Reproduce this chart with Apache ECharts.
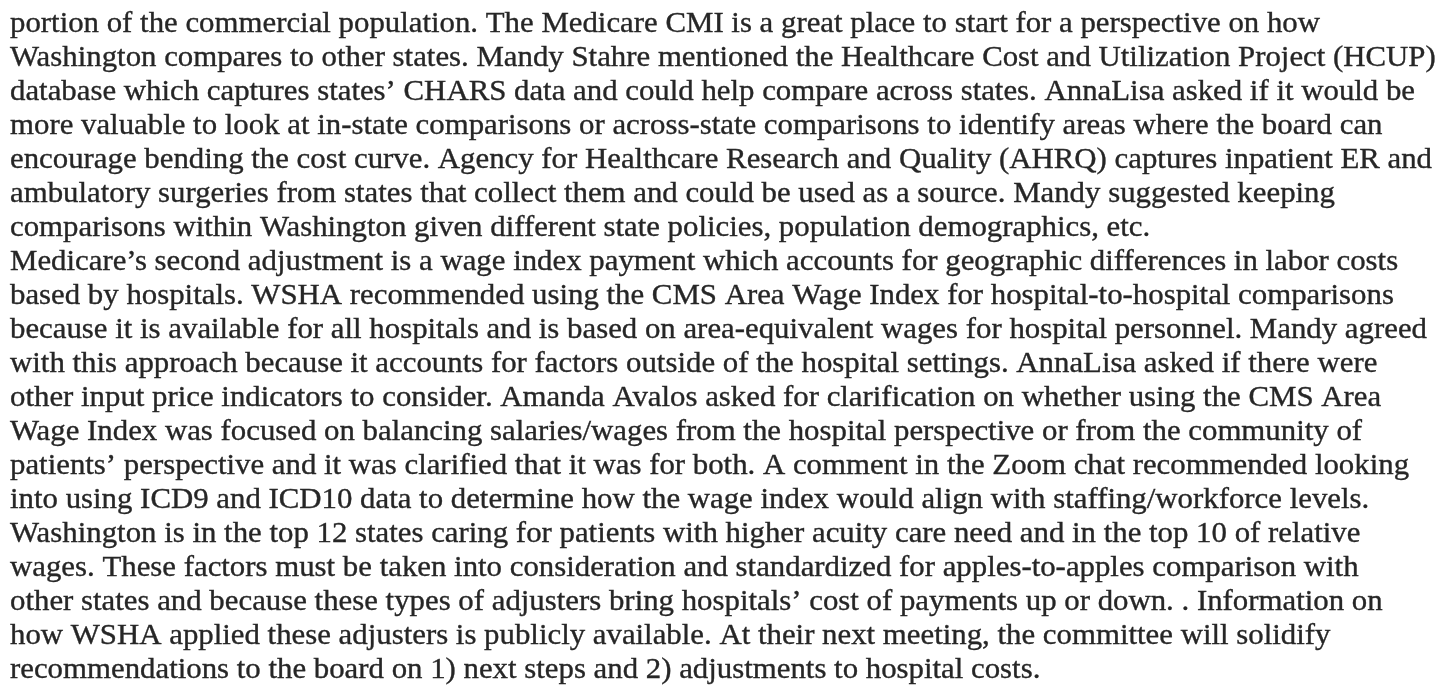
<!DOCTYPE html>
<html>
<head>
<meta charset="utf-8">
<script src="https://cdn.jsdelivr.net/npm/echarts@6/dist/echarts.min.js"></script>
<style>
html,body{margin:0;padding:0;background:#ffffff;}
#c{width:1445px;height:692px;}
</style>
</head>
<body>
<div id="c"></div>
<script>
// Text lines of the page, in reading order
const lines = [
  "portion of the commercial population. The Medicare CMI is a great place to start for a perspective on how",
  "Washington compares to other states. Mandy Stahre mentioned the Healthcare Cost and Utilization Project (HCUP)",
  "database which captures states\u2019 CHARS data and could help compare across states. AnnaLisa asked if it would be",
  "more valuable to look at in-state comparisons or across-state comparisons to identify areas where the board can",
  "encourage bending the cost curve. Agency for Healthcare Research and Quality (AHRQ) captures inpatient ER and",
  "ambulatory surgeries from states that collect them and could be used as a source. Mandy suggested keeping",
  "comparisons within Washington given different state policies, population demographics, etc.",
  "Medicare\u2019s second adjustment is a wage index payment which accounts for geographic differences in labor costs",
  "based by hospitals. WSHA recommended using the CMS Area Wage Index for hospital-to-hospital comparisons",
  "because it is available for all hospitals and is based on area-equivalent wages for hospital personnel. Mandy agreed",
  "with this approach because it accounts for factors outside of the hospital settings. AnnaLisa asked if there were",
  "other input price indicators to consider. Amanda Avalos asked for clarification on whether using the CMS Area",
  "Wage Index was focused on balancing salaries/wages from the hospital perspective or from the community of",
  "patients\u2019 perspective and it was clarified that it was for both. A comment in the Zoom chat recommended looking",
  "into using ICD9 and ICD10 data to determine how the wage index would align with staffing/workforce levels.",
  "Washington is in the top 12 states caring for patients with higher acuity care need and in the top 10 of relative",
  "wages. These factors must be taken into consideration and standardized for apples-to-apples comparison with",
  "other states and because these types of adjusters bring hospitals\u2019 cost of payments up or down. . Information on",
  "how WSHA applied these adjusters is publicly available. At their next meeting, the committee will solidify",
  "recommendations to the board on 1) next steps and 2) adjustments to hospital costs."
];

// Layout constants
const FONT_FAMILY = '"Liberation Serif", "DejaVu Serif", serif';
const FONT_SIZE = 30;
const LEFT = 10;
const FIRST_BASELINE = 34;
const LINE_STEP = 34;
const FIRST_LINE_WIDTH = 1310; // rendered width of the first line in the page
const TEXT_COLOR = '#262626';

const fontStr = FONT_SIZE + 'px ' + FONT_FAMILY;
const ctx = document.createElement('canvas').getContext('2d');
ctx.font = fontStr;
const scaleX = FIRST_LINE_WIDTH / ctx.measureText(lines[0]).width;

const chart = echarts.init(document.getElementById('c'), null, {renderer: 'canvas'});
chart.setOption({
  backgroundColor: '#ffffff',
  animation: false,
  graphic: {
    elements: lines.map(function (t, i) {
      return {
        type: 'text',
        x: LEFT,
        y: FIRST_BASELINE + i * LINE_STEP - Math.round(FONT_SIZE * 0.34),
        scaleX: scaleX,
        silent: true,
        style: {
          text: t,
          font: fontStr,
          fill: TEXT_COLOR,
          stroke: TEXT_COLOR,
          lineWidth: 0.35,
          align: 'left',
          verticalAlign: 'middle'
        }
      };
    })
  }
});
</script>
</body>
</html>
